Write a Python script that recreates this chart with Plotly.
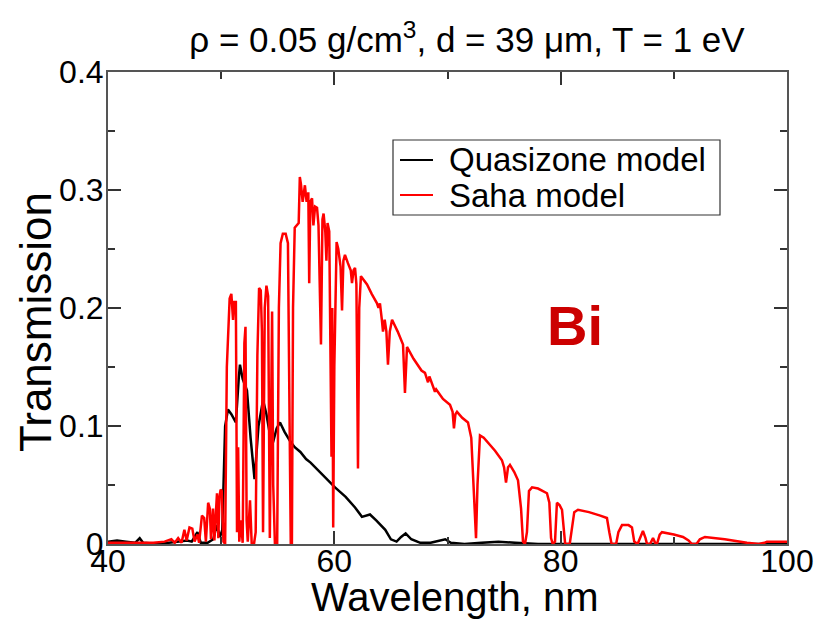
import plotly.graph_objects as go

# Quasizone model (black)
quasi_wl = [40.0, 40.8, 41.6, 42.4, 42.8, 43.1, 44.5, 45.5, 46.5, 47.0, 47.4, 47.9, 48.2, 48.8,
            49.3, 49.6, 49.9, 50.1, 50.35, 50.6, 50.9, 51.3, 51.55, 51.66, 51.9, 52.28, 52.6,
            52.95, 53.3, 53.7, 54.0, 54.3, 54.58, 54.9, 55.2, 55.6, 56.1, 56.5, 57.0, 57.5,
            57.9, 58.5, 59.2, 60.06, 61.0, 61.83, 62.44, 62.8, 63.15, 63.7, 64.5, 65.0, 65.5,
            65.9, 66.3, 66.8, 67.6, 68.5, 69.3, 69.8, 70.3, 71.5, 73.0, 74.5, 76.0, 78.0,
            85.0, 92.0, 100.0]
quasi_t = [0.002, 0.003, 0.002, 0.001, 0.005, 0.001, 0.0, 0.001, 0.002, 0.003, 0.002, 0.010,
           0.001, 0.001, 0.004, 0.016, 0.006, 0.012, 0.100, 0.114, 0.110, 0.103, 0.140, 0.152,
           0.140, 0.130, 0.090, 0.055, 0.100, 0.122, 0.110, 0.093, 0.086, 0.098, 0.103, 0.095,
           0.087, 0.082, 0.078, 0.072, 0.069, 0.063, 0.056, 0.048, 0.040, 0.031, 0.023, 0.024,
           0.025, 0.020, 0.012, 0.004, 0.002, 0.006, 0.009, 0.004, 0.001, 0.001, 0.003, 0.004,
           0.001, 0.0, 0.001, 0.002, 0.001, 0.0, 0.0, 0.0, 0.0]

# Saha model (red)
saha_wl = [40.0, 42.0, 44.0, 45.0, 45.6, 45.9, 46.2, 46.5, 46.75, 46.95, 47.2, 47.45, 47.65,
           47.9, 48.05, 48.3, 48.5, 48.65, 48.85, 49.0, 49.1, 49.28, 49.4, 49.63, 49.75, 49.85,
           49.95, 50.05, 50.2, 50.35, 50.5, 50.75, 50.9, 51.05, 51.15, 51.3, 51.4, 51.5, 51.6,
           51.75, 51.9, 52.05, 52.15, 52.25, 52.35, 52.55, 52.7, 52.9, 53.05, 53.2, 53.35, 53.5,
           53.6, 53.7, 53.85, 54.0, 54.15, 54.3, 54.5, 54.6, 54.75, 54.95, 55.1, 55.25, 55.45,
           55.7, 55.9, 56.05, 56.15, 56.25, 56.35, 56.5, 56.7, 56.85, 56.95, 57.05, 57.2, 57.4,
           57.55, 57.7, 57.78, 57.88, 58.03, 58.15, 58.3, 58.47, 58.6, 58.82, 58.95, 59.05,
           59.2, 59.3, 59.4, 59.55, 59.75, 59.82, 59.9, 60.0, 60.2, 60.35, 60.55, 60.68, 60.8,
           60.94, 61.2, 61.45, 61.56, 61.7, 61.83, 61.95, 62.09, 62.2, 62.35, 62.6, 62.89, 63.3,
           63.77, 63.9, 64.03, 64.2, 64.3, 64.45, 64.6, 64.74, 64.9, 65.1, 65.6, 66.07, 66.24,
           66.42, 67.0, 67.7, 68.01, 68.28, 68.4, 68.89, 69.0, 69.6, 70.22, 70.45, 70.57, 70.7,
           70.84, 71.3, 71.81, 72.1, 72.35, 72.52, 72.65, 72.87, 73.2, 73.58, 74.2, 74.81, 75.0,
           75.17, 75.35, 75.52, 75.9, 76.23, 76.5, 76.67, 76.85, 77.02, 77.2, 77.47, 78.0, 78.79,
           79.0, 79.15, 79.3, 79.5, 79.67, 79.9, 80.12, 80.3, 80.4, 80.8, 81.0, 81.2, 81.53,
           82.5, 83.5, 84.09, 84.3, 84.5, 84.9, 85.1, 85.42, 86.0, 86.3, 86.5, 86.8, 87.0, 87.27,
           87.5, 87.63, 87.9, 88.16, 88.35, 88.51, 88.75, 88.95, 90.0, 90.81, 91.3, 91.6, 92.0,
           92.3, 92.75, 94.5, 96.46, 97.5, 98.0, 98.23, 100.0]
saha_t = [0.001, 0.001, 0.001, 0.002, 0.004, 0.001, 0.005, 0.001, 0.012, 0.003, 0.014, 0.013,
          0.002, 0.008, 0.001, 0.024, 0.022, 0.002, 0.035, 0.030, 0.004, 0.030, 0.003, 0.043,
          0.005, 0.040, 0.046, 0.045, 0.002, 0.0, 0.150, 0.208, 0.212, 0.190, 0.205, 0.205,
          0.010, 0.082, 0.002, 0.020, 0.001, 0.170, 0.184, 0.020, 0.002, 0.037, 0.0, 0.0, 0.010,
          0.160, 0.217, 0.215, 0.180, 0.010, 0.200, 0.219, 0.210, 0.005, 0.197, 0.050, 0.0, 0.0,
          0.200, 0.255, 0.263, 0.263, 0.255, 0.100, 0.0, 0.0, 0.200, 0.268, 0.270, 0.272, 0.311,
          0.305, 0.290, 0.304, 0.290, 0.298, 0.221, 0.290, 0.293, 0.270, 0.286, 0.285, 0.270,
          0.169, 0.275, 0.280, 0.265, 0.240, 0.272, 0.265, 0.074, 0.200, 0.014, 0.150, 0.256,
          0.250, 0.235, 0.198, 0.240, 0.245, 0.238, 0.232, 0.221, 0.232, 0.234, 0.220, 0.064,
          0.200, 0.227, 0.224, 0.220, 0.212, 0.204, 0.200, 0.204, 0.190, 0.180, 0.190, 0.180,
          0.152, 0.180, 0.190, 0.180, 0.169, 0.128, 0.167, 0.157, 0.147, 0.145, 0.137, 0.142,
          0.129, 0.131, 0.123, 0.118, 0.112, 0.098, 0.110, 0.112, 0.107, 0.103, 0.090, 0.040,
          0.005, 0.050, 0.092, 0.090, 0.086, 0.079, 0.071, 0.065, 0.052, 0.065, 0.067, 0.061,
          0.054, 0.030, 0.002, 0.0, 0.010, 0.045, 0.048, 0.047, 0.043, 0.035, 0.005, 0.0, 0.002,
          0.035, 0.033, 0.029, 0.010, 0.0, 0.0, 0.015, 0.027, 0.029, 0.027, 0.024, 0.022, 0.010,
          0.0, 0.0, 0.010, 0.016, 0.016, 0.014, 0.002, 0.0, 0.005, 0.011, 0.005, 0.0, 0.0, 0.005,
          0.001, 0.0, 0.008, 0.010, 0.008, 0.006, 0.003, 0.0, 0.0, 0.004, 0.006, 0.004, 0.001,
          0.0, 0.001, 0.002, 0.002]

series_names = ["Quasizone model", "Saha model"]
series_colors = ["black", "#ff0000"]

x_ticks = [40, 60, 80, 100]
y_ticks = [0, 0.1, 0.2, 0.3, 0.4]
y_tick_text = ["0", "0.1", "0.2", "0.3", "0.4"]

FONT = "Liberation Sans, Arial, sans-serif"

fig = go.Figure()
fig.add_trace(go.Scatter(x=quasi_wl, y=quasi_t, mode="lines", name=series_names[0],
                         line=dict(color=series_colors[0], width=2.5), showlegend=False))
fig.add_trace(go.Scatter(x=saha_wl, y=saha_t, mode="lines", name=series_names[1],
                         line=dict(color=series_colors[1], width=2.5), showlegend=False))

axis_common = dict(showgrid=False, zeroline=False, showline=True, linecolor="#555555",
                   linewidth=2, mirror="allticks", ticks="inside", ticklen=13, tickwidth=1.5,
                   tickcolor="#333333", automargin=False,
                   tickfont=dict(family=FONT, size=32, color="black"))

fig.update_xaxes(range=[40, 100], tickvals=x_ticks, ticktext=[str(v) for v in x_ticks],
                 ticklabelstandoff=-12,
                 minor=dict(dtick=10, ticks="inside", ticklen=7, tickwidth=1.5, tickcolor="#333333"),
                 **axis_common)
fig.update_yaxes(range=[0, 0.4], tickvals=y_ticks, ticktext=y_tick_text,
                 ticklabelstandoff=-4,
                 minor=dict(dtick=0.05, ticks="inside", ticklen=7, tickwidth=1.5, tickcolor="#333333"),
                 **axis_common)


# pixel (screenshot) -> paper coordinates helpers for layout placement
def px(xp):
    return (xp - 108) / 679


def py(yp):
    return (544 - yp) / 472


shapes = [
    # legend box
    dict(type="rect", xref="paper", yref="paper", x0=px(393), x1=px(720), y0=py(215),
         y1=py(140), line=dict(color="#333333", width=1.2), fillcolor="white", layer="above"),
]
legend_rows = [160, 195]
annotations = []
for name, color, yrow in zip(series_names, series_colors, legend_rows):
    shapes.append(dict(type="line", xref="paper", yref="paper", x0=px(400), x1=px(433),
                       y0=py(yrow), y1=py(yrow), line=dict(color=color, width=2),
                       layer="above"))
    annotations.append(dict(text=name, x=px(447), y=py(yrow), xref="paper", yref="paper",
                            showarrow=False, xanchor="left", yanchor="middle",
                            font=dict(family=FONT, size=33, color="black")))

annotations += [
    dict(text="Transmission", x=px(35), y=py(322), xref="paper", yref="paper",
         textangle=-90, showarrow=False, xanchor="center", yanchor="middle",
         font=dict(family=FONT, size=44, color="black")),
    dict(text="Wavelength, nm", x=px(455), y=py(597), xref="paper", yref="paper",
         showarrow=False, xanchor="center", yanchor="middle",
         font=dict(family=FONT, size=40, color="black")),
    dict(text="<b>Bi</b>", x=px(575), y=py(325), xref="paper", yref="paper",
         showarrow=False, xanchor="center", yanchor="middle",
         font=dict(family=FONT, size=56, color="#cc0000")),
]

fig.update_layout(
    width=831, height=620,
    margin=dict(l=100, r=52, t=64, b=84),
    paper_bgcolor="white", plot_bgcolor="white",
    title=dict(text="ρ = 0.05 g/cm<sup>3</sup>, d = 39 μm, T = 1 eV",
               x=(467 - 8) / 831, xref="container", xanchor="center",
               y=1 - 32 / 620, yref="container", yanchor="middle",
               font=dict(family=FONT, size=35, color="black")),
    showlegend=False,
    shapes=shapes,
    annotations=annotations,
)

fig.write_html("out.html")
